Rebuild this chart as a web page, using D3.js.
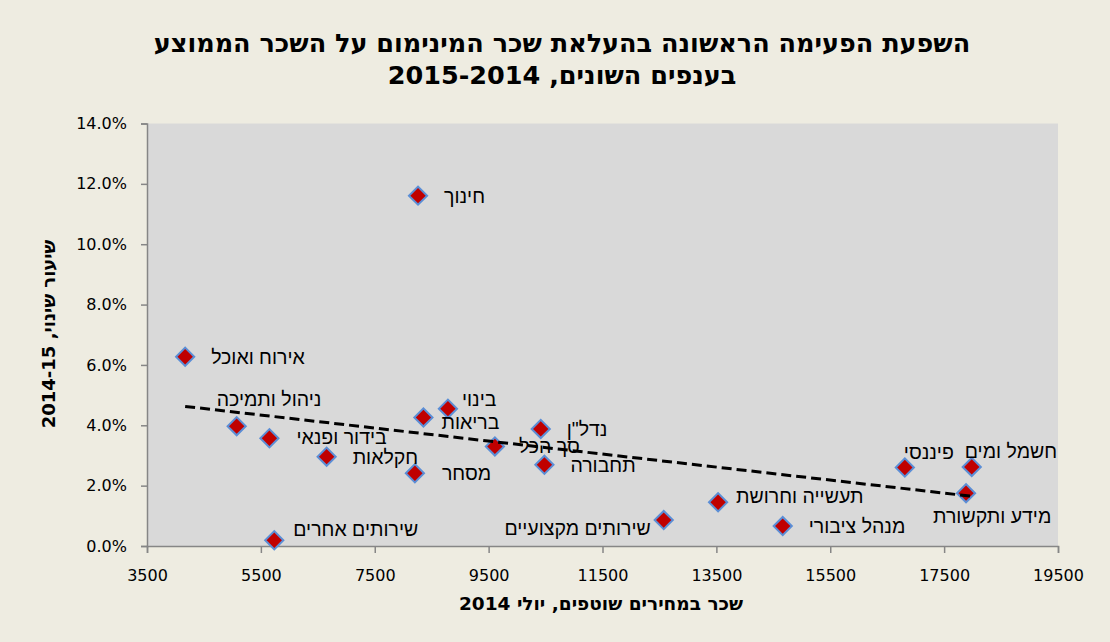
<!DOCTYPE html>
<html>
<head>
<meta charset="utf-8">
<script src="https://cdn.jsdelivr.net/npm/d3@7"></script>
<style>
  html, body { margin: 0; padding: 0; background: #EEECE1; }
  svg { display: block; }
  .axis path, .axis line { stroke: #868686; stroke-width: 1.5; }
  .axis text { font-family: "DejaVu Sans", sans-serif; font-size: 16px; fill: #000; }
</style>
</head>
<body>
<svg id="chart" width="1110" height="642"></svg>
<script>
// --- data ---
const branches = ["אירוח ואוכל", "חינוך", "ניהול ותמיכה", "בידור ופנאי", "חקלאות", "מסחר",
  "בריאות", "בינוי", "שירותים אחרים", "סך הכל", "נדל\"ן", "תחבורה", "שירותים מקצועיים",
  "תעשייה וחרושת", "מנהל ציבורי", "פיננסי", "חשמל ומים", "מידע ותקשורת"];
// average wage, July 2014 (current prices)
const wages = [4170, 8260, 5075, 5650, 6655, 8205, 8355, 8785, 5735, 9610, 10415, 10480,
  12575, 13530, 14665, 16810, 17985, 17885];
// rate of change 2014-15
const changes = [0.0627, 0.1161, 0.0397, 0.0357, 0.0296, 0.0241, 0.0426, 0.0455, 0.0019,
  0.0330, 0.0388, 0.0269, 0.0086, 0.0145, 0.0066, 0.0260, 0.0262, 0.0175];
const xTicks = [3500, 5500, 7500, 9500, 11500, 13500, 15500, 17500, 19500];
const yTicks = [0, 0.02, 0.04, 0.06, 0.08, 0.10, 0.12, 0.14];

// label placement (pixels from marker centre) : dx, dy, anchor
const labelPlace = [
  [26, 0, "start"], [26, 0, "start"], [-20, -27, "start"], [27, -1, "start"], [26, 0, "start"],
  [27, 0, "start"], [18, 5, "start"], [14, -10, "start"], [19, -11, "start"], [24, 0, "start"],
  [26, 0, "start"], [26, 0, "start"], [-13, 8, "end"], [18, -6, "start"], [26, 0, "start"],
  [-1, -16, "start"], [-7, -16, "start"], [-33, 23, "start"]
];

const svg = d3.select("#chart");
const W = 1110, H = 642;
const margin = { top: 123.5, right: 52, bottom: 96, left: 147 };

const x = d3.scaleLinear().domain([3500, 19500]).range([margin.left, W - margin.right]);
const y = d3.scaleLinear().domain([0, 0.14]).range([H - margin.bottom, margin.top]);

const points = branches.map((name, i) => ({ name, wage: wages[i], change: changes[i], place: labelPlace[i] }));

// plot area
svg.append("rect")
  .attr("x", x(3500)).attr("y", y(0.14))
  .attr("width", x(19500) - x(3500)).attr("height", y(0) - y(0.14))
  .attr("fill", "#D9D9D9");

// axes
svg.append("g").attr("class", "axis")
  .attr("transform", `translate(0,${y(0)})`)
  .call(d3.axisBottom(x).tickValues(xTicks).tickFormat(d3.format("d")).tickSizeOuter(0).tickSize(7).tickPadding(17));

svg.append("g").attr("class", "axis")
  .attr("transform", `translate(${x(3500)},0)`)
  .call(d3.axisLeft(y).tickValues(yTicks).tickFormat(d3.format(".1%")).tickSizeOuter(0).tickSize(6).tickPadding(14));

// markers
const diamond = d3.symbol().type(d3.symbolSquare).size(165);
svg.append("g").selectAll("path")
  .data(points).join("path")
  .attr("d", diamond)
  .attr("transform", d => `translate(${x(d.wage)},${y(d.change)}) rotate(45)`)
  .attr("fill", "#C00000")
  .attr("stroke", "#5B8ED6")
  .attr("stroke-width", 2);

// labels
svg.append("g").selectAll("text")
  .data(points).join("text")
  .attr("x", d => x(d.wage) + d.place[0])
  .attr("y", d => y(d.change) + d.place[1])
  .attr("text-anchor", d => d.place[2])
  .attr("dominant-baseline", "central")
  .attr("font-family", "'Liberation Sans', Arial, sans-serif")
  .attr("font-size", 19.5)
  .attr("fill", "#000")
  .text(d => d.name);

// linear trend line (least squares over all points)
const mx = d3.mean(wages), my = d3.mean(changes);
const slope = d3.sum(wages, (w, i) => (w - mx) * (changes[i] - my)) / d3.sum(wages, w => (w - mx) ** 2);
const x0 = d3.min(wages), x1 = d3.max(wages);
svg.append("line")
  .attr("x1", x(x0)).attr("y1", y(my + slope * (x0 - mx)))
  .attr("x2", x(x1)).attr("y2", y(my + slope * (x1 - mx)))
  .attr("stroke", "#000")
  .attr("stroke-width", 3)
  .attr("stroke-dasharray", "10,5");

// titles
const title = svg.append("text")
  .attr("x", 562).attr("text-anchor", "middle")
  .attr("font-family", "'DejaVu Sans', sans-serif")
  .attr("font-weight", "bold").attr("font-size", 25.5)
  .attr("direction", "rtl");
title.append("tspan").attr("x", 562).attr("y", 52).text("השפעת הפעימה הראשונה בהעלאת שכר המינימום על השכר הממוצע");
title.append("tspan").attr("x", 562).attr("y", 84).text("בענפים השונים, 2015-2014");

svg.append("text")
  .attr("x", 601).attr("y", 610)
  .attr("text-anchor", "middle").attr("direction", "rtl")
  .attr("font-family", "'DejaVu Sans', sans-serif")
  .attr("font-weight", "bold").attr("font-size", 18.5)
  .text("שכר במחירים שוטפים, יולי 2014");

svg.append("text")
  .attr("transform", "translate(55,334) rotate(-90)")
  .attr("text-anchor", "middle").attr("direction", "rtl")
  .attr("font-family", "'DejaVu Sans', sans-serif")
  .attr("font-weight", "bold").attr("font-size", 18)
  .text("שיעור שינוי, 2014-15");
</script>
</body>
</html>
